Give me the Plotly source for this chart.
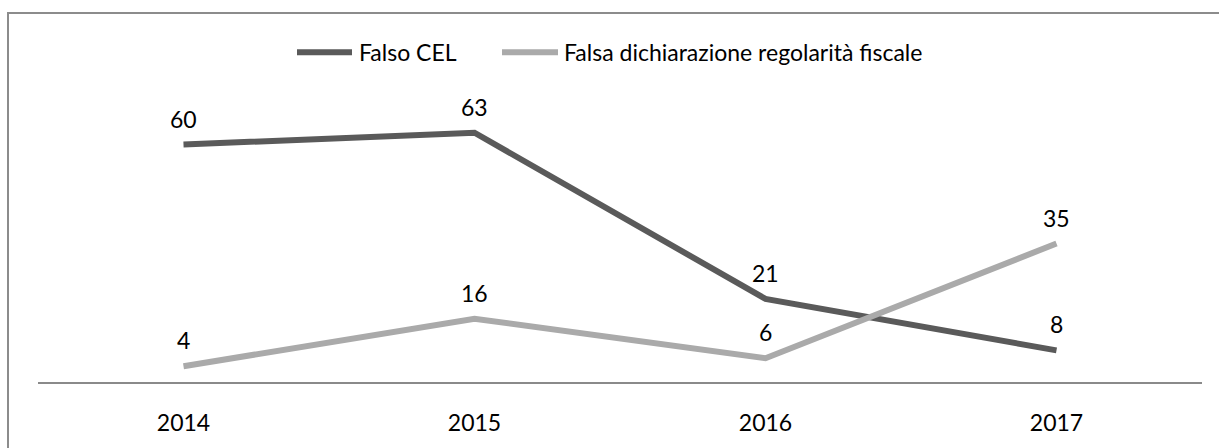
import plotly.graph_objects as go

years = ["2014", "2015", "2016", "2017"]
falso_cel = [60, 63, 21, 8]
falsa_dich = [4, 16, 6, 35]
series_names = ["Falso CEL", "Falsa dichiarazione regolarità fiscale"]
series_colors = ["#5a5a5a", "#aaaaaa"]

FONT = "Lato"
FS = 23
W, H = 1219, 448
ML, MR, MT, MB = 38, 17, 105, 60
PW = W - ML - MR
PH = H - MT - MB


def px_x(px):
    return (px - ML) / PW


def px_y(py):
    return (H - MB - py) / PH


fig = go.Figure()
annotations = []
for name, vals, col in zip(series_names, [falso_cel, falsa_dich], series_colors):
    fig.add_trace(go.Scatter(
        x=years, y=vals, mode="lines", name=name,
        line=dict(color=col, width=6), showlegend=False, hoverinfo="skip"))
    for i, v in enumerate(vals):
        annotations.append(dict(
            x=i, y=v, xref="x", yref="y", text=str(v), showarrow=False,
            yshift=26, font=dict(family=FONT, size=FS, color="#000000")))

# manual legend
legend_items = [(297, 352, 357), (502, 558, 562)]
shapes = []
for (x0, x1, tx), name, col in zip(legend_items, series_names, series_colors):
    shapes.append(dict(type="line", xref="paper", yref="paper",
                       x0=px_x(x0), x1=px_x(x1), y0=px_y(51), y1=px_y(51),
                       line=dict(color=col, width=6)))
    annotations.append(dict(x=px_x(tx), y=px_y(51), xref="paper", yref="paper",
                            text=name, showarrow=False, xanchor="left", yanchor="middle",
                            font=dict(family=FONT, size=FS, color="#000000")))

# chart border
shapes.append(dict(type="rect", xref="paper", yref="paper",
                   x0=px_x(8), x1=px_x(1230), y0=px_y(460), y1=px_y(11),
                   line=dict(color="#8c8c8c", width=2), fillcolor="rgba(0,0,0,0)",
                   layer="below"))

fig.update_layout(
    width=W, height=H,
    margin=dict(l=ML, r=MR, t=MT, b=MB, pad=0),
    paper_bgcolor="white", plot_bgcolor="white",
    font=dict(family=FONT, size=FS, color="#000000"),
    annotations=annotations, shapes=shapes,
    xaxis=dict(type="category", range=[-0.5, 3.5], showgrid=False, zeroline=False,
               showline=True, linecolor="#8a8a8a", linewidth=1.5,
               ticks="outside", ticklen=20, tickcolor="rgba(0,0,0,0)",
               tickfont=dict(family=FONT, size=FS, color="#000000"), fixedrange=True),
    yaxis=dict(range=[0, 70], visible=False, showgrid=False, zeroline=False, fixedrange=True),
)

fig.write_html("out.html", config={"displayModeBar": False},
               post_script="document.body.style.margin='0';document.body.style.overflow='hidden';")
